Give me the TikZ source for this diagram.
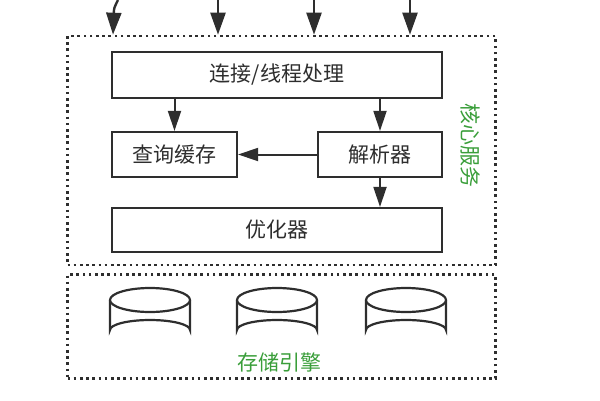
\documentclass[tikz,border=0pt]{standalone}
\usepackage{fontspec}
\setmainfont{Noto Sans CJK SC}
\usepackage{tikz}
\usetikzlibrary{arrows.meta}

\definecolor{ink}{HTML}{2E2E2E}
\definecolor{lblgreen}{HTML}{3A9E3A}

\tikzset{
    box/.style={draw=ink, line width=2.2pt, fill=white, inner sep=0pt,
        font=\fontsize{21}{24}\selectfont, text=ink},
    dotbox/.style={draw=ink, line width=2.6pt, dash pattern=on 2.6pt off 3.6pt},
    lbl/.style={text=lblgreen, font=\fontsize{21}{24}\selectfont},
    arr/.style={-{Triangle[length=20pt, width=13pt]}, draw=ink, line width=2pt},
    bigarr/.style={-{Triangle[length=22pt, width=15pt]}, draw=ink, line width=2.4pt},
}

\begin{document}
\begin{tikzpicture}[x=1pt, y=-1pt]
    \useasboundingbox (0,0) rectangle (600,400);

    % core service layer
    \node[dotbox, minimum width=428pt, minimum height=229pt] (core) at (281.5,150.5) {};
    \node[box, minimum width=330pt, minimum height=46pt] (conn) at (277,75) {连接/线程处理};
    \node[box, minimum width=125pt, minimum height=45pt] (cache) at (174.5,154.5) {查询缓存};
    \node[box, minimum width=124pt, minimum height=45pt] (parser) at (380,154.5) {解析器};
    \node[box, minimum width=330pt, minimum height=44pt] (opt) at (277,230) {优化器};
    \node[lbl, rotate=-90] (corelbl) at (471,145) {核心服务};

    \draw[arr] (conn.south -| cache.north) -- (cache.north);
    \draw[arr] (conn.south -| parser.north) -- (parser.north);
    \draw[arr] (parser.west) -- (cache.east);
    \draw[arr] (parser.south) -- (parser.south |- opt.north);

    % incoming requests
    \coordinate (t1) at (118,0);
    \coordinate (t2) at (218,0);
    \coordinate (t3) at (314,0);
    \coordinate (t4) at (410,0);
    \draw[bigarr] (t1) .. controls (114,8) .. (113,0 |- core.north);
    \foreach \t in {t2, t3, t4}
        \draw[bigarr] (\t) -- (\t |- core.north);

    % storage engine layer
    \node[dotbox, minimum width=428pt, minimum height=104pt] (store) at (281.5,326.5) {};
    \foreach \cx in {150, 277, 406} {
        \draw[ink, line width=2.2pt, fill=white]
            (\cx-40,300) -- (\cx-40,330) arc[start angle=180, end angle=360, x radius=40, y radius=10]
            -- (\cx+40,300);
        \draw[ink, line width=2.2pt, fill=white] (\cx,300) ellipse[x radius=40, y radius=12];
    }
    \node[lbl] (storelbl) at (279,362) {存储引擎};
\end{tikzpicture}
\end{document}
